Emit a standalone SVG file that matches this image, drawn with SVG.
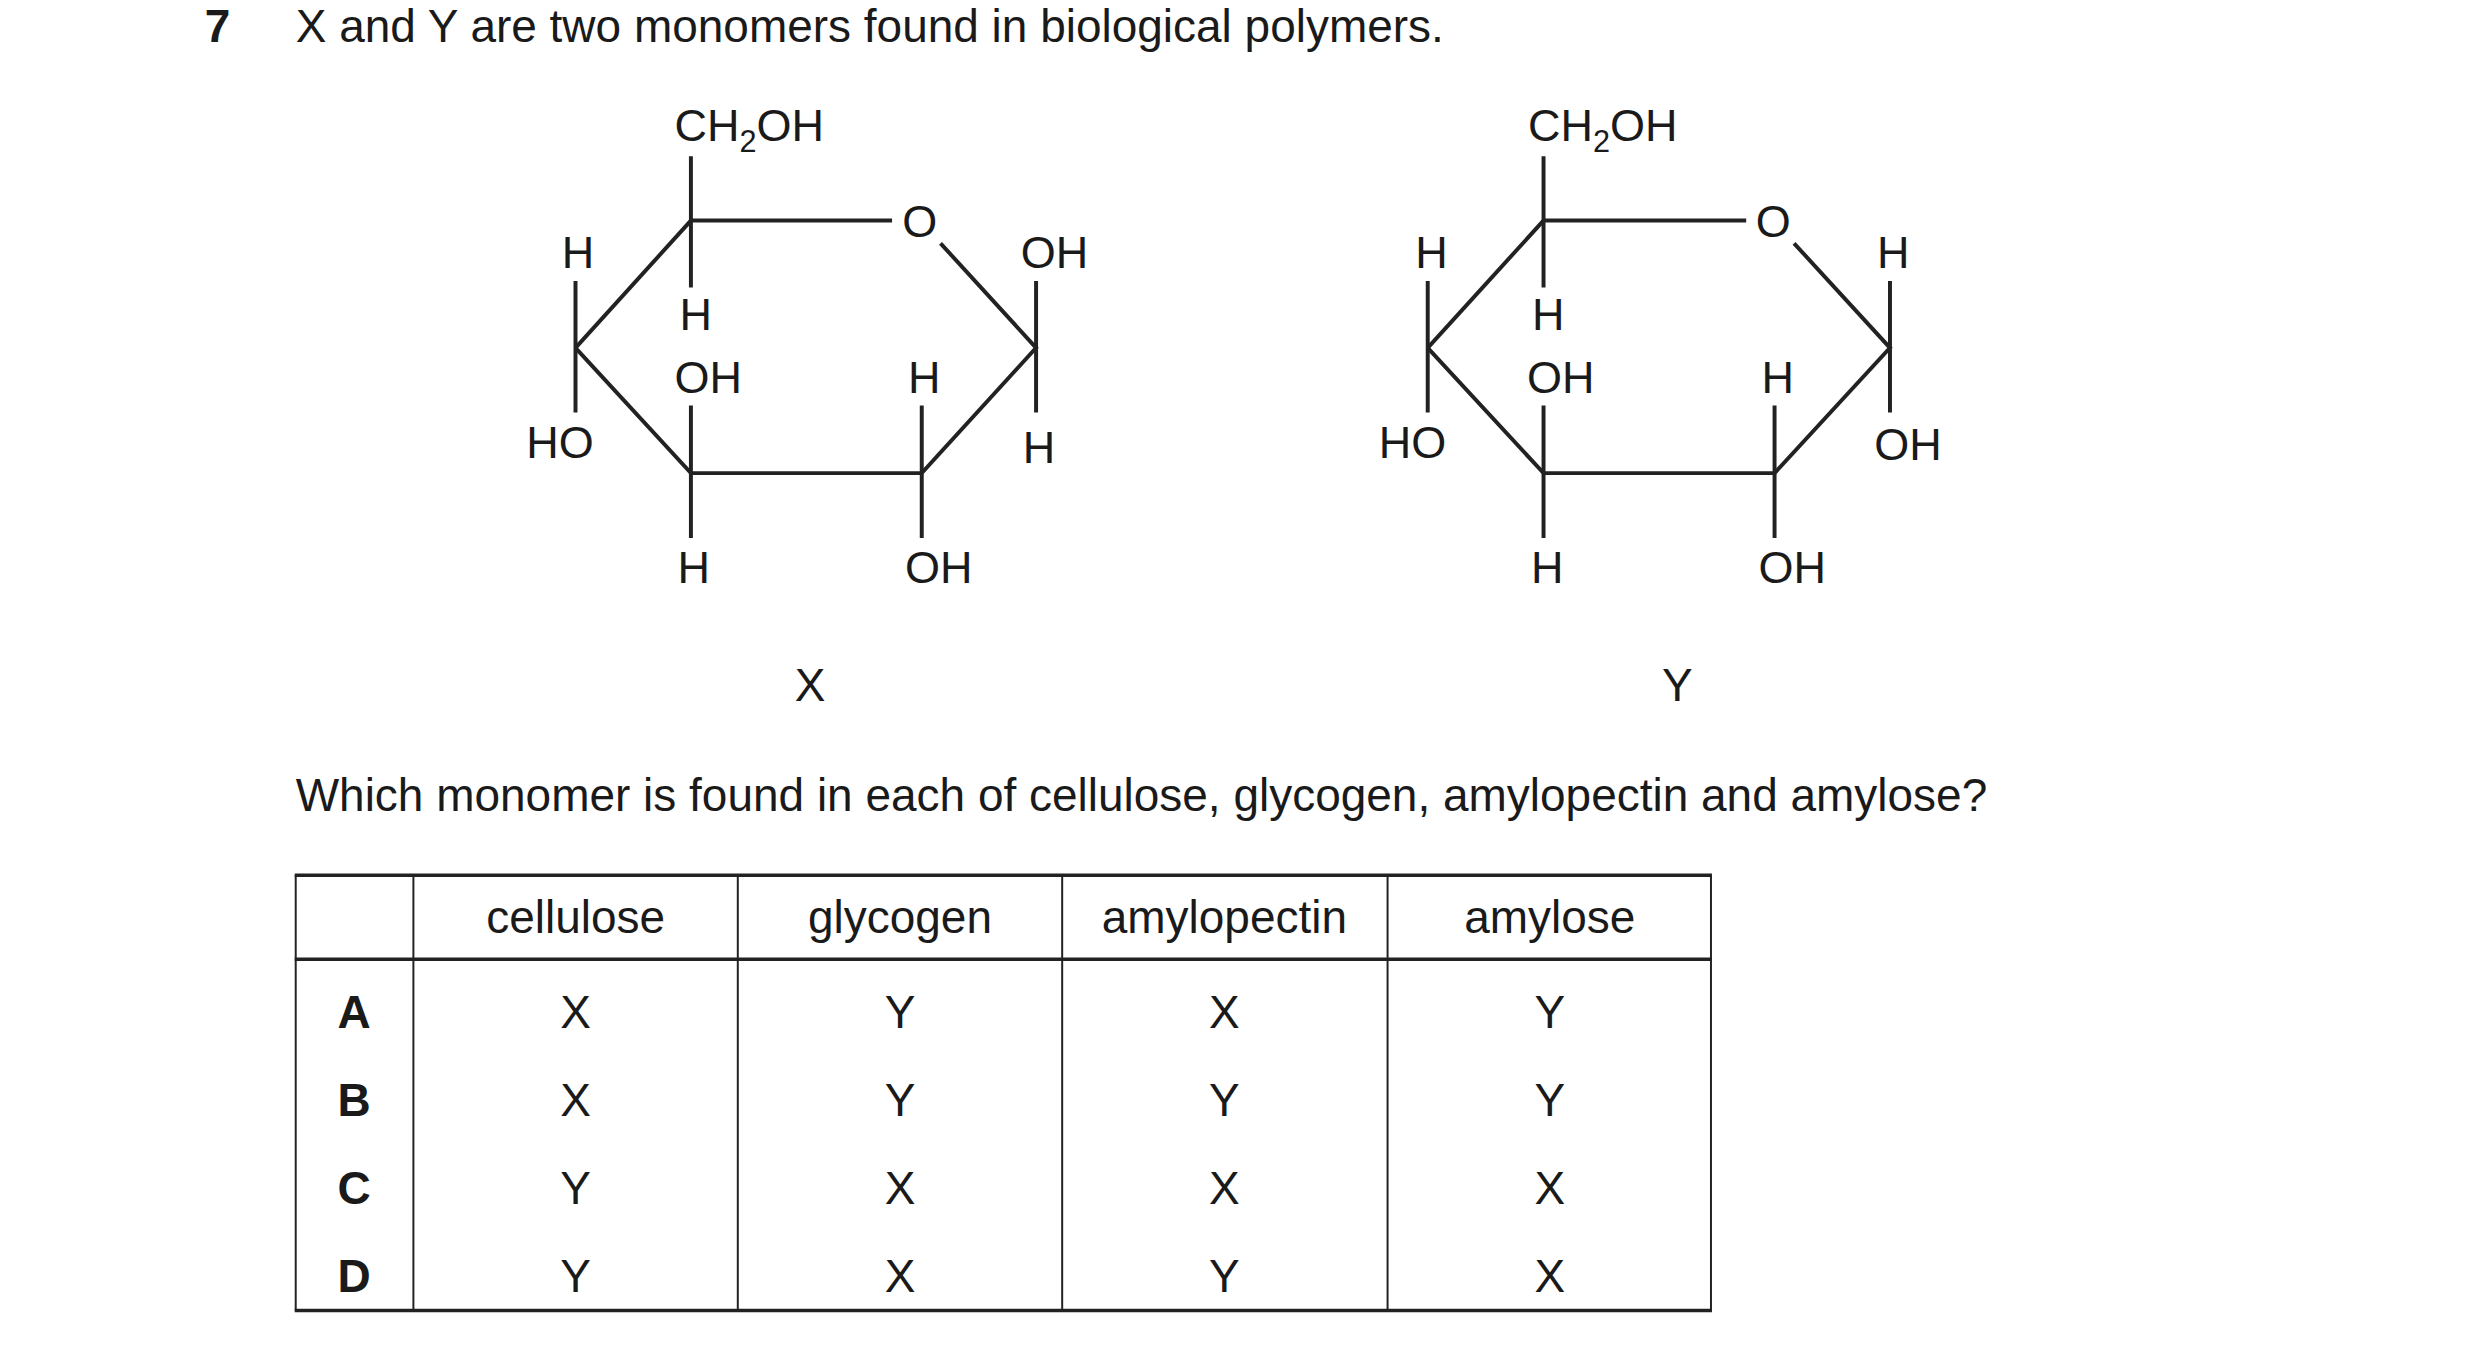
<svg xmlns="http://www.w3.org/2000/svg" width="2480" height="1353" viewBox="0 0 2480 1353">
<style>
text{font-family:"Liberation Sans",Arial,sans-serif;fill:#1a1a1a}
.t{font-size:46.5px}
.c{font-size:45.5px}
.s{font-size:31px}
.m{text-anchor:middle}
.b{font-weight:bold}
.bond{stroke:#222;stroke-width:4;fill:none}
.g{stroke:#222;stroke-width:2;fill:none}
.gt{stroke:#222;stroke-width:3.5;fill:none}
</style>
<rect width="2480" height="1353" fill="#fff"/>
<g transform="scale(0.989)">
<text class="t b" x="207" y="42">7</text>
<text class="t" x="299" y="42">X and Y are two monomers found in biological polymers.</text>

<g id="monomerX">
<g class="bond">
<path d="M581.9,351.7 L698.6,223 L902,223"/>
<path d="M951,246 L1047.6,351.7 L932,478.4 L698.6,478.4 L581.9,351.7"/>
<path d="M698.6,158 V290.6 M1047.6,284 V417 M581.9,284 V417 M698.6,410 V544 M932,410 V544"/>
</g>
<text class="c" x="682" y="143">CH<tspan class="s" dy="11">2</tspan><tspan dy="-11">OH</tspan></text>
<text class="c m" x="930" y="240">O</text>
<text class="c" x="1032" y="271">OH</text>
<text class="c" x="1034" y="468">H</text>
<text class="c" x="568" y="271">H</text>
<text class="c" x="532" y="463">HO</text>
<text class="c" x="687" y="334">H</text>
<text class="c" x="682" y="397">OH</text>
<text class="c" x="685" y="589">H</text>
<text class="c" x="918" y="397">H</text>
<text class="c" x="915" y="589">OH</text>
<text class="t m" x="819" y="709">X</text>
</g>

<g id="monomerY">
<g class="bond">
<path d="M1443.6,351.7 L1560.7,223 L1765.6,223"/>
<path d="M1814,246 L1911,351.7 L1794.3,478.4 L1560.7,478.4 L1443.6,351.7"/>
<path d="M1560.7,158 V290.6 M1911,284 V417 M1443.6,284 V417 M1560.7,410 V544 M1794.3,410 V544"/>
</g>
<text class="c" x="1545" y="143">CH<tspan class="s" dy="11">2</tspan><tspan dy="-11">OH</tspan></text>
<text class="c m" x="1793" y="240">O</text>
<text class="c" x="1898" y="271">H</text>
<text class="c" x="1895" y="465">OH</text>
<text class="c" x="1431" y="271">H</text>
<text class="c" x="1394" y="463">HO</text>
<text class="c" x="1549" y="334">H</text>
<text class="c" x="1544" y="397">OH</text>
<text class="c" x="1548" y="589">H</text>
<text class="c" x="1781" y="397">H</text>
<text class="c" x="1778" y="589">OH</text>
<text class="t m" x="1696" y="709">Y</text>
</g>

<text class="t" x="299" y="820">Which monomer is found in each of cellulose, glycogen, amylopectin and amylose?</text>

<g id="table">
<path class="gt" d="M298,885 H1731 M298,970 H1731 M298,1325 H1731"/>
<path class="g" d="M299,885 V1325 M418,885 V1325 M746,885 V1325 M1074,885 V1325 M1403,885 V1325 M1730,885 V1325"/>
<g class="t m">
<text x="582" y="943">cellulose</text><text x="910" y="943">glycogen</text><text x="1238" y="943">amylopectin</text><text x="1567" y="943">amylose</text>
<text class="b" x="358" y="1039">A</text><text x="582" y="1039">X</text><text x="910" y="1039">Y</text><text x="1238" y="1039">X</text><text x="1567" y="1039">Y</text>
<text class="b" x="358" y="1128">B</text><text x="582" y="1128">X</text><text x="910" y="1128">Y</text><text x="1238" y="1128">Y</text><text x="1567" y="1128">Y</text>
<text class="b" x="358" y="1217">C</text><text x="582" y="1217">Y</text><text x="910" y="1217">X</text><text x="1238" y="1217">X</text><text x="1567" y="1217">X</text>
<text class="b" x="358" y="1306">D</text><text x="582" y="1306">Y</text><text x="910" y="1306">X</text><text x="1238" y="1306">Y</text><text x="1567" y="1306">X</text>
</g>
</g>
</g>
</svg>
